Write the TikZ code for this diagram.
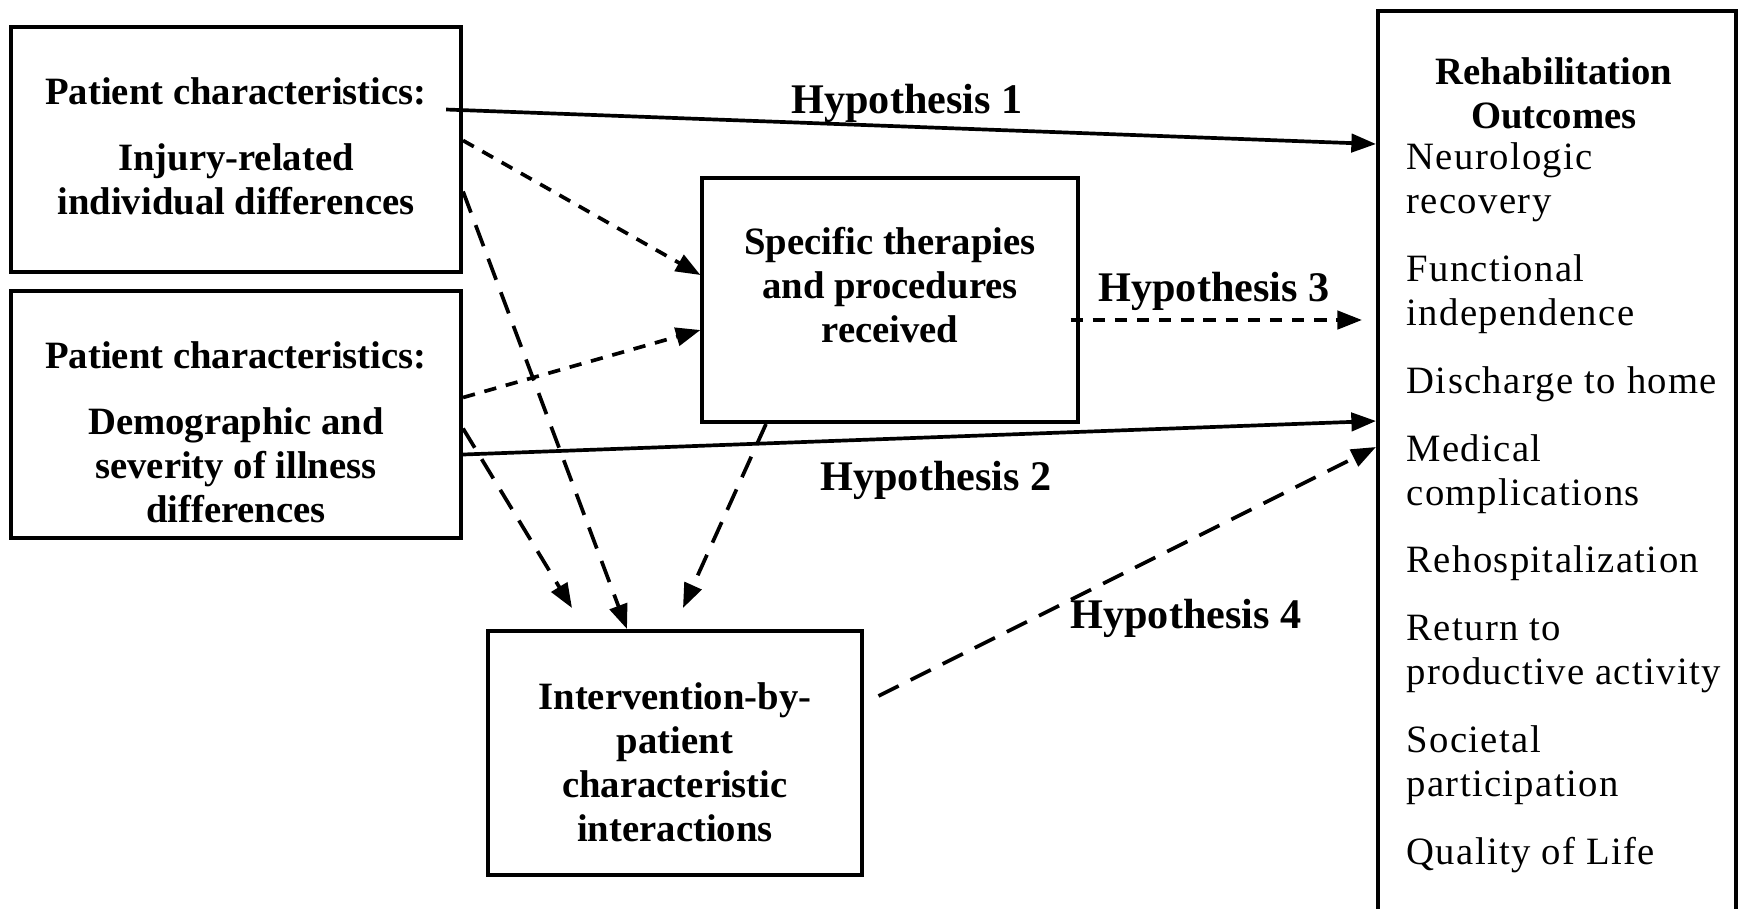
\documentclass[tikz,border=0pt]{standalone}
\usepackage{fontspec}
\setmainfont{Liberation Serif}
\newfontfamily\itemfont[LetterSpace=3.5]{Liberation Serif}
\usetikzlibrary{arrows.meta,positioning,calc}
\tikzset{
  box/.style={draw,line width=1.1pt,inner sep=0pt},
  boxtext/.style={align=center,inner sep=1pt,font=\fontsize{11}{12.5}\selectfont\bfseries},
  hyp/.style={font=\fontsize{12}{14}\selectfont\bfseries},
  arr/.style={line width=1.05pt,-{Triangle[length=7pt,width=5.2pt]}},
  sdash/.style={arr,dash pattern=on 3.5pt off 2.8pt},
  ldash/.style={arr,dash pattern=on 6.4pt off 3.8pt},
}

\begin{document}
\begin{tikzpicture}[x=0.01cm,y=-0.01cm]
  \useasboundingbox (0,0) rectangle (1741,908);
  % boxes
  \node[box,minimum width=4.5cm,minimum height=2.45cm] (inj) at (236,149.5) {};
  \node[boxtext] (injtxt) at ([shift={(0,-3)}]inj.center)
    {Patient characteristics:\\[6.3pt]Injury-related\\individual differences};
  \node[box,minimum width=4.5cm,minimum height=2.47cm] (demo) at (236,414.5) {};
  \node[boxtext] (demotxt) at ([shift={(0,18)}]demo.center)
    {Patient characteristics:\\[6.3pt]Demographic and\\severity of illness\\differences};
  \node[box,minimum width=3.75cm,minimum height=2.44cm] (spec) at (890,300) {};
  \node[boxtext] (spectxt) at ([shift={(0,-15)}]spec.center)
    {Specific therapies\\and procedures\\received};
  \node[box,minimum width=3.73cm,minimum height=2.44cm] (inter) at (675,753) {};
  \node[boxtext] (intertxt) at ([shift={(0,9)}]inter.center)
    {Intervention-by-\\patient\\characteristic\\interactions};
  \node[box,anchor=north west,minimum width=3.58cm,minimum height=10cm] (outc) at (1376,9) {};
  \node[boxtext] (outctit) at (1554,93) {Rehabilitation\\Outcomes};
  \node[anchor=north west,align=left,inner sep=0pt,font=\fontsize{11}{12.5}\selectfont\itemfont]
    (outclist) at (1406,142)
    {Neurologic\\recovery\\[6.8pt]
     Functional\\independence\\[6.8pt]
     Discharge to home\\[6.8pt]
     Medical\\complications\\[6.8pt]
     Rehospitalization\\[6.8pt]
     Return to\\productive activity\\[6.8pt]
     Societal\\participation\\[6.8pt]
     Quality of Life};
  % ends on the outcomes box
  \coordinate (o1) at ($(outc.north west)+(0,135)$);
  \coordinate (o2) at ($(outc.north west)+(0,412)$);
  \coordinate (o3) at ($(outc.north west)+(-14,311)$);
  \coordinate (o4) at ($(outc.north west)+(0,438)$);
  % connectors
  \draw[arr] ([shift={(-17,-40)}]inj.east) -- (o1);
  \draw[sdash] ([shift={(0,-9)}]inj.east) -- ([shift={(0,-25)}]spec.west);
  \draw[ldash] ([shift={(0,42)}]inj.east) -- ([shift={(-48,0)}]inter.north);
  \draw[sdash] ([shift={(0,-17)}]demo.east) -- ([shift={(0,30)}]spec.west);
  \draw[ldash] ([shift={(0,14)}]demo.east) -- ([shift={(-103,-21)}]inter.north);
  \draw[arr] ([shift={(0,40)}]demo.east) -- (o2);
  \draw[ldash] ([shift={(-124,0)}]spec.south) -- ([shift={(8,-21)}]inter.north);
  \draw[sdash] ([shift={(-9,20)}]spec.east) -- (o3);
  \draw[ldash] ([shift={(15,-57)}]inter.east) -- (o4);
  % labels
  \node[hyp] (h1) at (907,103) {Hypothesis 1};
  \node[hyp] (h2) at (936,480) {Hypothesis 2};
  \node[hyp] (h3) at (1214,291) {Hypothesis 3};
  \node[hyp] (h4) at (1186,618) {Hypothesis 4};
\end{tikzpicture}
\end{document}
